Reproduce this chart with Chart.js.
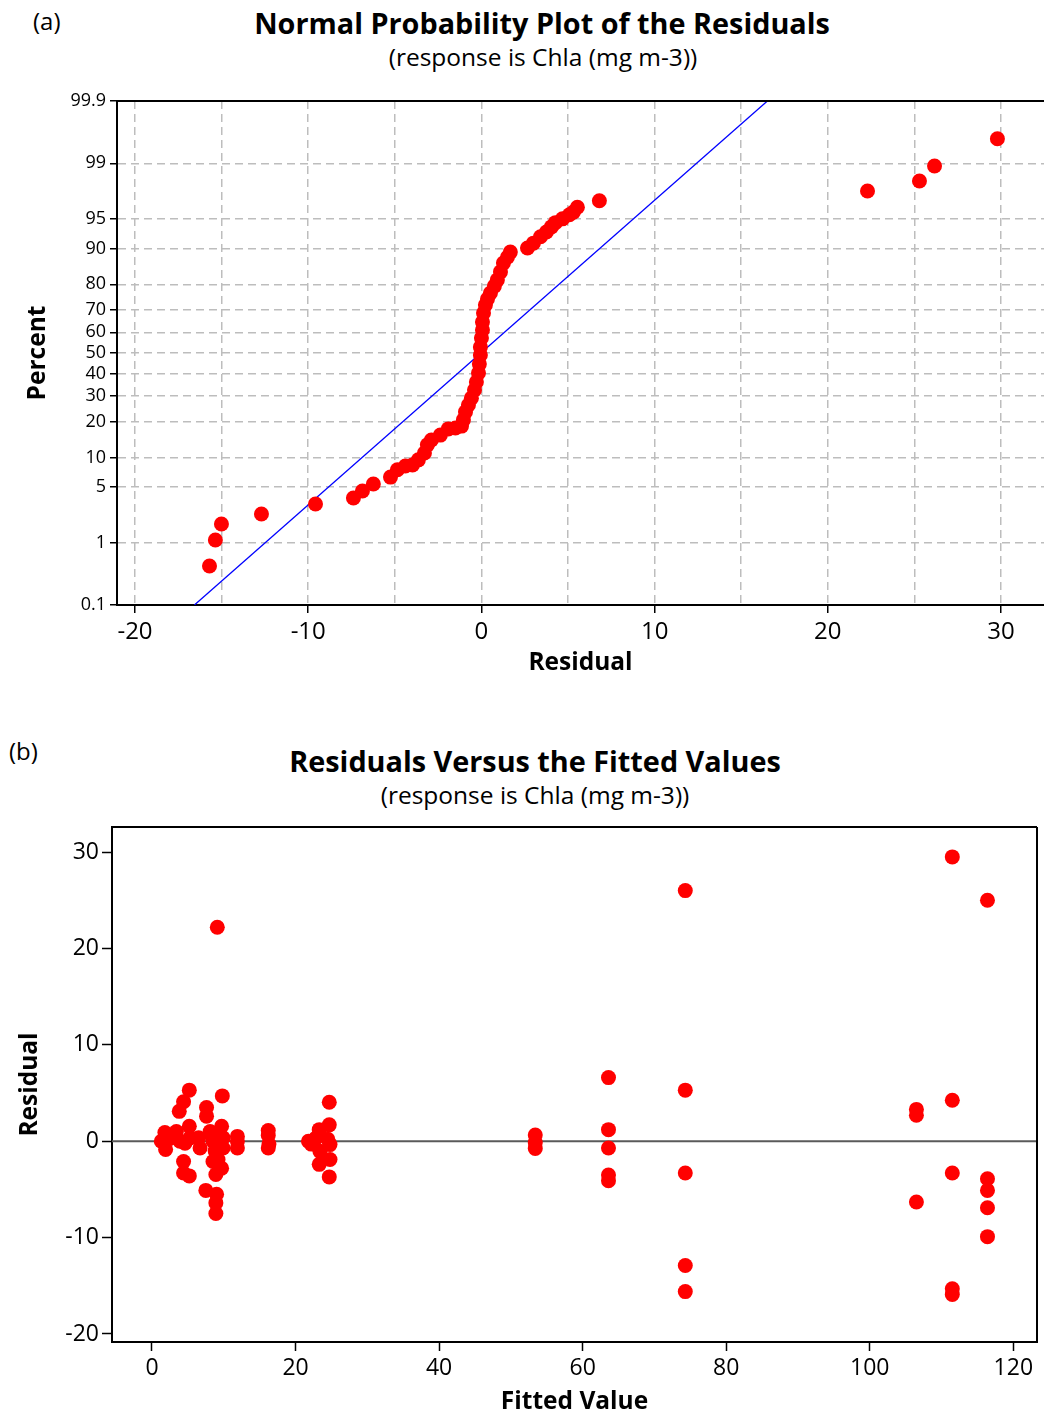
<!DOCTYPE html>
<html>
<head>
<meta charset="utf-8">
<script src="https://cdn.jsdelivr.net/npm/chart.js@4.4.1/dist/chart.umd.min.js"></script>
<style>
  html, body { margin: 0; padding: 0; background: #fff; }
  body { width: 1044px; height: 1414px; position: relative; overflow: hidden; font-family: 'Open Sans', sans-serif; color: #000; }
  .box { position: absolute; left: 0; width: 1044px; }
  #boxA { top: 0; height: 700px; }
  #boxB { top: 728px; height: 686px; }
  .tag { position: absolute; font-size: 24px; line-height: 1; }
  .ttl { position: absolute; white-space: nowrap; transform: translate(-50%, -50%); line-height: 1; }
  .main { font-size: 28.8px; font-weight: bold; }
  .sub { font-size: 24.5px; }
</style>
</head>
<body>
<div class="tag" style="left:33px; top:9px;">(a)</div>
<div class="ttl main" style="left:542px; top:23px;">Normal Probability Plot of the Residuals</div>
<div class="ttl sub" style="left:543px; top:57px;">(response is Chla (mg m-3))</div>
<div class="box" id="boxA"><canvas id="probChart"></canvas></div>

<div class="tag" style="left:9px; top:739px;">(b)</div>
<div class="ttl main" style="left:535px; top:761px;">Residuals Versus the Fitted Values</div>
<div class="ttl sub" style="left:535px; top:795px;">(response is Chla (mg m-3))</div>
<div class="box" id="boxB"><canvas id="fitChart"></canvas></div>

<script>
// (a) normal probability plot
const probResidual = [-15.70, -15.36, -15.01, -12.70, -9.58, -7.39, -6.87, -6.24, -5.25, -4.85, -4.39, -3.98, -3.64, -3.29, -3.12, -2.89, -2.37, -1.91, -1.50, -1.15, -1.04, -0.92, -0.75, -0.58, -0.40, -0.29, -0.17, -0.12, -0.06, -0.06, 0.00, 0.06, 0.06, 0.12, 0.23, 0.35, 0.52, 0.75, 0.92, 1.10, 1.27, 1.50, 1.67, 2.66, 3.00, 3.41, 3.75, 4.04, 4.27, 4.68, 5.08, 5.31, 5.54, 6.81, 22.29, 25.29, 26.16, 29.79];
const probPercent = [0.45, 1.09, 1.8, 2.42, 3.2, 3.77, 4.53, 5.4, 6.4, 7.6, 8.3, 8.5, 9.5, 11.0, 13.0, 14.3, 15.7, 17.6, 17.9, 18.5, 20.6, 23.5, 26.2, 29.0, 32.5, 36.1, 40.3, 44.6, 49.0, 52.9, 57.3, 61.1, 64.8, 68.8, 72.2, 74.6, 76.9, 79.4, 81.5, 84.0, 86.5, 88.0, 89.2, 90.1, 91.1, 92.3, 93.1, 93.9, 94.5, 95.0, 95.5, 95.8, 96.3, 96.9, 97.65, 98.25, 98.91, 99.57];
// fitted normal line, ends at the plot edges
const fitLineResidual = [-16.57, 16.51];
const fitLinePercent = [0.1, 99.9];
const percentTicks = [0.1, 1, 5, 10, 20, 30, 40, 50, 60, 70, 80, 90, 95, 99, 99.9];
const residualGrid = [-20, -15, -10, -5, 0, 5, 10, 15, 20, 25, 30];

// (b) residuals vs fitted values
const fittedValues = [1.3, 1.8, 1.9, 2.5, 3.4, 3.9, 3.8, 4.4, 5.2, 5.2, 5.3, 4.4, 4.4, 5.2, 4.6, 6.5, 6.7, 7.6, 7.6, 7.5, 8.1, 8.5, 8.8, 8.5, 8.3, 9.7, 9.9, 9.9, 9.7, 8.9, 9.8, 9.1, 9.0, 8.9, 8.9, 9.2, 11.9, 11.9, 11.9, 16.2, 16.2, 16.2, 16.3, 21.8, 22.2, 23.3, 23.4, 23.3, 22.8, 24.7, 24.7, 24.8, 24.8, 24.7, 24.5, 53.4, 53.4, 53.4, 63.6, 63.6, 63.6, 63.6, 63.6, 74.3, 74.3, 74.3, 74.3, 74.3, 106.5, 106.5, 106.5, 111.5, 111.5, 111.5, 111.5, 111.5, 116.4, 116.4, 116.4, 116.4, 116.4];
const residualValues = [0.0, 0.9, -0.85, 0.3, 1.0, 0.0, 3.1, 4.1, 5.3, 1.55, 0.35, -2.1, -3.3, -3.6, -0.2, 0.35, -0.7, 3.5, 2.6, -5.1, 1.0, 0.0, -1.0, -2.1, 0.6, 1.55, 0.35, -0.7, -2.8, -3.45, 4.7, 22.2, -5.5, -6.4, -7.5, -1.9, 0.5, 0.0, -0.7, 1.1, 0.6, -0.7, -0.3, 0.0, -0.3, 1.2, -1.05, -2.4, 0.3, 4.05, 1.7, -0.35, -1.9, -3.7, 0.2, 0.65, -0.15, -0.75, 6.6, 1.2, -0.7, -3.5, -4.1, 26.0, 5.3, -3.3, -12.9, -15.6, 3.3, 2.7, -6.3, 29.5, 4.25, -3.3, -15.3, -15.9, 25.0, -3.9, -5.1, -6.9, -9.9];
const fittedTicks = [0, 20, 40, 60, 80, 100, 120];
const residualTicks = [-20, -10, 0, 10, 20, 30];

const FONT = "'Open Sans', sans-serif";

// inverse normal cdf (Acklam), used as the probability scale
function probit(p) {
  const a = [-3.969683028665376e+01, 2.209460984245205e+02, -2.759285104469687e+02, 1.383577518672690e+02, -3.066479806614716e+01, 2.506628277459239e+00];
  const b = [-5.447609879822406e+01, 1.615858368580409e+02, -1.556989798598866e+02, 6.680131188771972e+01, -1.328068155288572e+01];
  const c = [-7.784894002430293e-03, -3.223964580411365e-01, -2.400758277161838e+00, -2.549732539343734e+00, 4.374664141464968e+00, 2.938163982698783e+00];
  const d = [7.784695709041462e-03, 3.224671290700398e-01, 2.445134137142996e+00, 3.754408661907416e+00];
  const plow = 0.02425;
  let q, r;
  if (p < plow) {
    q = Math.sqrt(-2 * Math.log(p));
    return (((((c[0]*q+c[1])*q+c[2])*q+c[3])*q+c[4])*q+c[5]) / ((((d[0]*q+d[1])*q+d[2])*q+d[3])*q+1);
  }
  if (p <= 1 - plow) {
    q = p - 0.5; r = q * q;
    return (((((a[0]*r+a[1])*r+a[2])*r+a[3])*r+a[4])*r+a[5])*q / (((((b[0]*r+b[1])*r+b[2])*r+b[3])*r+b[4])*r+1);
  }
  q = Math.sqrt(-2 * Math.log(1 - p));
  return -(((((c[0]*q+c[1])*q+c[2])*q+c[3])*q+c[4])*q+c[5]) / ((((d[0]*q+d[1])*q+d[2])*q+d[3])*q+1);
}
const z = pct => probit(pct / 100);

// extra frame sides that chart.js axes do not draw
const framePlugin = {
  id: 'frame',
  afterDraw(chart, args, opts) {
    const { ctx, chartArea: a } = chart;
    ctx.save();
    ctx.strokeStyle = '#000';
    ctx.lineWidth = 2;
    ctx.beginPath();
    if (opts.sides.includes('top')) { ctx.moveTo(a.left - 1, a.top); ctx.lineTo(a.right, a.top); }
    if (opts.sides.includes('right')) { ctx.moveTo(a.right, a.top); ctx.lineTo(a.right, a.bottom + 1); }
    ctx.stroke();
    ctx.restore();
  }
};

// fixed axis box sizes, no extra label padding
const fixH = h => s => { s.height = h; s.paddingLeft = 0; s.paddingRight = 0; };
const fixW = w => s => { s.width = w; s.paddingTop = 0; s.paddingBottom = 0; };

const tickFont = { family: FONT, size: 23 };
const titleFont = { family: FONT, size: 24.5, weight: 'bold', lineHeight: 1 };

new Chart(document.getElementById('probChart'), {
  type: 'scatter',
  data: {
    datasets: [{
      label: 'Residuals',
      data: probResidual.map((r, i) => ({ x: r, y: z(probPercent[i]) })),
      backgroundColor: '#ff0000',
      borderColor: '#ff0000',
      pointRadius: 7.5,
      pointHoverRadius: 7.5,
      borderWidth: 0
    }, {
      label: 'Fit',
      type: 'line',
      data: fitLineResidual.map((r, i) => ({ x: r, y: z(fitLinePercent[i]) })),
      borderColor: '#0000ff',
      borderWidth: 1.3,
      pointRadius: 0,
      fill: false
    }]
  },
  options: {
    responsive: true,
    maintainAspectRatio: false,
    animation: false,
    layout: { autoPadding: false, padding: { left: 26, top: 101, right: 0, bottom: 25 } },
    plugins: { legend: { display: false }, tooltip: { enabled: false }, frame: { sides: ['top'] } },
    scales: {
      x: {
        type: 'linear', min: -21.04, max: 32.48,
        afterBuildTicks: s => { s.ticks = residualGrid.map(v => ({ value: v })); },
        afterFit: fixH(70),
        ticks: { callback: v => (v % 10 === 0 ? String(v) : ''), font: { family: FONT, size: 24 }, color: '#000', padding: 5, maxRotation: 0, autoSkip: false },
        grid: { color: '#bdbdbd', lineWidth: 1.5, tickLength: 8, tickWidth: 1.5, tickColor: c => (c.tick && c.tick.value % 10 === 0 ? '#000' : 'rgba(0,0,0,0)') },
        border: { color: '#000', width: 2, dash: [8, 5] },
        title: { display: true, text: 'Residual', font: titleFont, color: '#000', padding: 0 }
      },
      y: {
        type: 'linear', min: z(0.1), max: z(99.9),
        afterBuildTicks: s => { s.ticks = percentTicks.map(p => ({ value: z(p) })); },
        afterFit: fixW(91),
        ticks: { callback: (v, i) => String(percentTicks[i]), font: { family: FONT, size: 18 }, color: '#000', padding: 4, autoSkip: false },
        grid: { color: '#bdbdbd', lineWidth: 1.5, tickLength: 7, tickWidth: 1.5, tickColor: '#000' },
        border: { color: '#000', width: 2, dash: [8, 5] },
        title: { display: true, text: 'Percent', font: titleFont, color: '#000', padding: 0 }
      }
    }
  },
  plugins: [framePlugin]
});

new Chart(document.getElementById('fitChart'), {
  type: 'scatter',
  data: {
    datasets: [{
      label: 'Residuals',
      data: fittedValues.map((f, i) => ({ x: f, y: residualValues[i] })),
      backgroundColor: '#ff0000',
      borderColor: '#ff0000',
      pointRadius: 7.5,
      pointHoverRadius: 7.5,
      borderWidth: 0
    }, {
      label: 'Zero',
      type: 'line',
      data: [{ x: -5.57, y: 0 }, { x: 123.3, y: 0 }],
      borderColor: '#5a5a5a',
      borderWidth: 2,
      pointRadius: 0,
      fill: false
    }]
  },
  options: {
    responsive: true,
    maintainAspectRatio: false,
    animation: false,
    layout: { autoPadding: false, padding: { left: 18, top: 99, right: 7, bottom: 0 } },
    plugins: { legend: { display: false }, tooltip: { enabled: false }, frame: { sides: ['top', 'right'] } },
    scales: {
      x: {
        type: 'linear', min: -5.57, max: 123.3,
        afterBuildTicks: s => { s.ticks = fittedTicks.map(v => ({ value: v })); },
        afterFit: fixH(72),
        ticks: { font: tickFont, color: '#000', padding: 4, maxRotation: 0, autoSkip: false },
        grid: { drawOnChartArea: false, tickLength: 9, tickWidth: 1.5, tickColor: '#000' },
        border: { color: '#000', width: 2 },
        title: { display: true, text: 'Fitted Value', font: titleFont, color: '#000', padding: 0 }
      },
      y: {
        type: 'linear', min: -20.83, max: 32.6,
        afterBuildTicks: s => { s.ticks = residualTicks.map(v => ({ value: v })); },
        afterFit: fixW(94),
        ticks: { font: tickFont, color: '#000', padding: 3, autoSkip: false },
        grid: { drawOnChartArea: false, tickLength: 10, tickWidth: 1.5, tickColor: '#000' },
        border: { color: '#000', width: 2 },
        title: { display: true, text: 'Residual', font: titleFont, color: '#000', padding: 0 }
      }
    }
  },
  plugins: [framePlugin]
});
</script>
</body>
</html>
